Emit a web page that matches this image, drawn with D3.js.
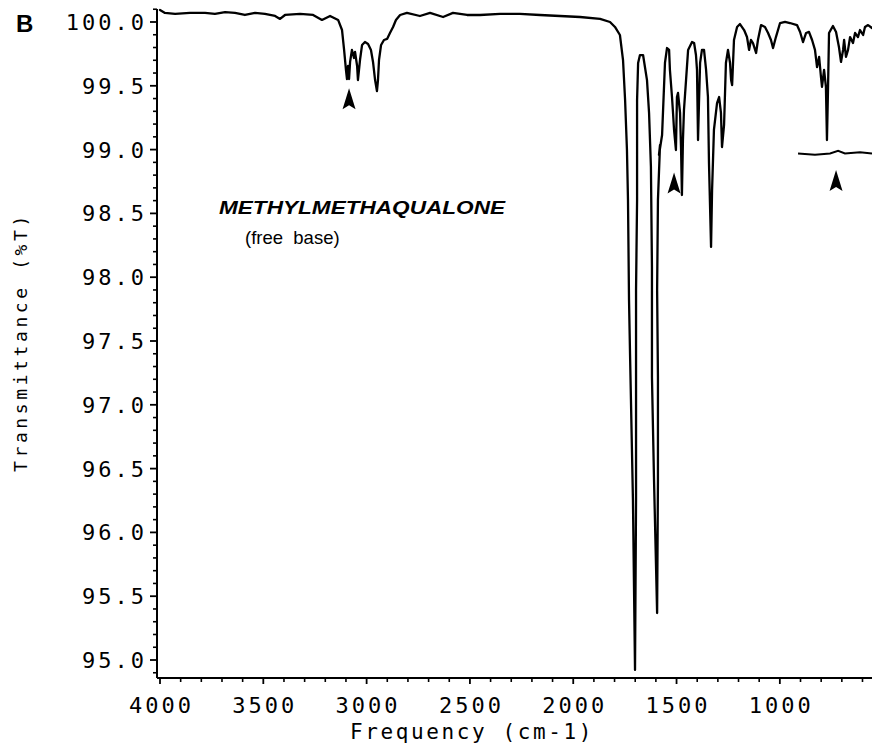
<!DOCTYPE html>
<html>
<head>
<meta charset="utf-8">
<script src="https://cdn.jsdelivr.net/npm/d3@7"></script>
<style>
  html, body { margin: 0; padding: 0; background: #fff; }
  svg { display: block; }
</style>
</head>
<body>
<svg id="chart" width="872" height="747"></svg>
<script>
// ---------------- data ----------------
const xTickValues = [4000, 3500, 3000, 2500, 2000, 1500, 1000];
const xTickLabels = ["4000", "3500", "3000", "2500", "2000", "1500", "1000"];
const yTickValues = [100.0, 99.5, 99.0, 98.5, 98.0, 97.5, 97.0, 96.5, 96.0, 95.5, 95.0];
const yTickLabels = ["100.0", "99.5", "99.0", "98.5", "98.0", "97.5", "97.0", "96.5", "96.0", "95.5", "95.0"];

// spectrum trace (cm-1, %T) in plotting order
const wavenumber = [
  4000, 3976, 3927, 3855, 3782, 3734, 3685, 3637, 3589, 3540, 3492, 3443, 3419, 3395, 3322, 3259,
  3216, 3177, 3138, 3119, 3109, 3100, 3095, 3090, 3085, 3080, 3071, 3061, 3056, 3046, 3042, 3032,
  3022, 3008, 2993, 2979, 2969, 2959, 2950, 2945, 2940, 2930, 2916, 2901, 2887, 2872, 2858, 2838,
  2805, 2742, 2693, 2630, 2582, 2514, 2451, 2354, 2258, 2161, 2064, 1967, 1870, 1822, 1798, 1774,
  1759, 1749, 1740, 1735, 1730, 1725, 1711, 1701, 1696, 1696, 1696, 1691, 1691, 1686, 1677, 1662,
  1643, 1633, 1624, 1619, 1619, 1609, 1594, 1590, 1590, 1594, 1590, 1580, 1585, 1570, 1556, 1546,
  1536, 1532, 1522, 1517, 1512, 1503, 1498, 1493, 1483, 1478, 1474, 1469, 1464, 1454, 1444, 1425,
  1415, 1406, 1401, 1396, 1391, 1386, 1377, 1367, 1357, 1348, 1343, 1333, 1328, 1319, 1304, 1294,
  1285, 1280, 1270, 1261, 1251, 1241, 1236, 1231, 1222, 1207, 1193, 1173, 1159, 1149, 1140, 1130,
  1115, 1106, 1091, 1072, 1057, 1043, 1033, 1019, 999, 975, 951, 917, 902, 888, 873, 859,
  844, 830, 820, 810, 801, 796, 786, 777, 772, 767, 762, 743, 728, 714, 704, 694,
  689, 680, 670, 660, 646, 636, 622, 612, 597, 588, 573, 554
];
const transmittance = [
  100.094, 100.071, 100.063, 100.071, 100.071, 100.063, 100.078, 100.071, 100.055, 100.071, 100.063, 100.047, 100.024, 100.055, 100.063, 100.055,
  100.016, 100.047, 100.016, 99.937, 99.781, 99.624, 99.553, 99.655, 99.553, 99.687, 99.781, 99.718, 99.765, 99.655, 99.545, 99.702,
  99.820, 99.843, 99.828, 99.781, 99.687, 99.545, 99.459, 99.545, 99.702, 99.820, 99.859, 99.867, 99.914, 99.961, 100.016, 100.055,
  100.071, 100.047, 100.071, 100.039, 100.071, 100.055, 100.055, 100.063, 100.063, 100.055, 100.047, 100.039, 100.024, 100.000, 99.961, 99.898,
  99.702, 99.389, 98.997, 98.605, 97.821, 97.390, 96.254, 94.922, 96.254, 97.390, 97.900, 98.605, 99.389, 99.679, 99.741, 99.741,
  99.545, 99.287, 98.864, 98.080, 97.218, 96.411, 95.368, 96.411, 97.218, 97.900, 98.605, 99.036, 98.958, 99.114, 99.679, 99.796,
  99.781, 99.624, 99.412, 99.287, 99.154, 98.997, 99.412, 99.444, 99.287, 98.997, 98.644, 99.075, 99.310, 99.545, 99.781, 99.843,
  99.835, 99.741, 99.624, 99.075, 99.389, 99.679, 99.781, 99.781, 99.624, 99.412, 98.895, 98.237, 98.683, 99.154, 99.365, 99.412,
  99.287, 99.020, 99.193, 99.679, 99.781, 99.679, 99.545, 99.506, 99.859, 99.961, 99.984, 99.937, 99.882, 99.781, 99.859, 99.835,
  99.757, 99.859, 99.976, 99.961, 99.914, 99.859, 99.796, 99.882, 99.992, 100.000, 99.992, 99.976, 99.922, 99.843, 99.914, 99.922,
  99.859, 99.781, 99.647, 99.726, 99.569, 99.491, 99.624, 99.491, 99.075, 99.467, 99.914, 99.969, 99.922, 99.804, 99.687, 99.781,
  99.859, 99.726, 99.781, 99.882, 99.835, 99.914, 99.882, 99.937, 99.898, 99.961, 99.976, 99.953
];

// marker arrows (tip position, cm-1 / %T)
const arrowWavenumber = [3085, 1512, 728];
const arrowTransmittance = [99.48, 98.82, 98.84];

// offset reference line near the 728 band
const refLineWavenumber = [912, 830, 757, 718, 685, 612, 554];
const refLineTransmittance = [98.97, 98.96, 98.97, 98.99, 98.97, 98.98, 98.97];

// ---------------- drawing ----------------
const svg = d3.select("#chart");
const xMin = 554, xMax = 4000;
const x = d3.scaleLinear().domain([xMax, xMin]).range([160, 872]);
const y = d3.scaleLinear().domain([94.859, 100.094]).range([678, 10]);

const axisX = 157;      // y-axis line position
const axisY = 678;      // x-axis line position
const monoFont = "'DejaVu Sans Mono', 'Liberation Mono', monospace";

// y axis
const yAxis = svg.append("g").attr("transform", `translate(${axisX},0)`);
yAxis.append("line").attr("x1", 0).attr("x2", 0).attr("y1", 9).attr("y2", axisY)
  .attr("stroke", "#000").attr("stroke-width", 2);
const yMinor = d3.range(949, 1002, 1).map(v => v / 10).filter(v => !yTickValues.some(t => Math.abs(t - v) < 1e-6));
yAxis.selectAll(".ymin").data(yMinor).enter().append("line")
  .attr("x1", -4).attr("x2", 0).attr("y1", d => y(d)).attr("y2", d => y(d))
  .attr("stroke", "#000").attr("stroke-width", 1.6);
yAxis.selectAll(".ymaj").data(yTickValues).enter().append("line")
  .attr("x1", -7).attr("x2", 0).attr("y1", d => y(d)).attr("y2", d => y(d))
  .attr("stroke", "#000").attr("stroke-width", 1.8);
yAxis.selectAll(".ylab").data(yTickValues).enter().append("text")
  .attr("x", -10).attr("y", d => y(d) + 8)
  .attr("text-anchor", "end")
  .attr("font-family", monoFont).attr("font-size", 22).attr("letter-spacing", 3)
  .attr("fill", "#000")
  .text((d, i) => yTickLabels[i]);

// x axis
const xAxis = svg.append("g").attr("transform", `translate(0,${axisY})`);
xAxis.append("line").attr("x1", axisX).attr("x2", 872).attr("y1", 0).attr("y2", 0)
  .attr("stroke", "#000").attr("stroke-width", 2);
const xMinor = d3.range(600, 4001, 100).filter(v => !xTickValues.includes(v));
xAxis.selectAll(".xmin").data(xMinor).enter().append("line")
  .attr("x1", d => x(d)).attr("x2", d => x(d)).attr("y1", 0).attr("y2", 4)
  .attr("stroke", "#000").attr("stroke-width", 1.6);
xAxis.selectAll(".xmaj").data(xTickValues).enter().append("line")
  .attr("x1", d => x(d)).attr("x2", d => x(d)).attr("y1", 0).attr("y2", 6)
  .attr("stroke", "#000").attr("stroke-width", 1.8);
xAxis.selectAll(".xlab").data(xTickValues).enter().append("text")
  .attr("x", d => x(d) + 1.5).attr("y", 35)
  .attr("text-anchor", "middle")
  .attr("font-family", monoFont).attr("font-size", 22).attr("letter-spacing", 3)
  .attr("fill", "#000")
  .text((d, i) => xTickLabels[i]);

// axis titles
svg.append("text")
  .attr("x", 472).attr("y", 739)
  .attr("text-anchor", "middle")
  .attr("font-family", monoFont).attr("font-size", 21).attr("letter-spacing", 2.6)
  .attr("fill", "#000")
  .text("Frequency (cm-1)");
svg.append("text")
  .attr("transform", "translate(27,342) rotate(-90)")
  .attr("text-anchor", "middle")
  .attr("font-family", monoFont).attr("font-size", 18).attr("letter-spacing", 3.6)
  .attr("fill", "#000")
  .text("Transmittance (%T)");

// spectrum
const pts = wavenumber.map((w, i) => [w, transmittance[i]]);
const line = d3.line().x(d => x(d[0])).y(d => y(d[1]));
svg.append("path").datum(pts)
  .attr("d", line)
  .attr("fill", "none").attr("stroke", "#000").attr("stroke-width", 2.3)
  .attr("stroke-linejoin", "round").attr("stroke-linecap", "round");

// reference line
const refPts = refLineWavenumber.map((w, i) => [w, refLineTransmittance[i]]);
svg.append("path").datum(refPts)
  .attr("d", line)
  .attr("fill", "none").attr("stroke", "#000").attr("stroke-width", 2);

// arrows
arrowWavenumber.forEach((w, i) => {
  const tx = x(w), ty = y(arrowTransmittance[i]);
  svg.append("path")
    .attr("d", `M${tx},${ty} L${tx + 6.5},${ty + 21} L${tx},${ty + 17} L${tx - 6.5},${ty + 21} Z`)
    .attr("fill", "#000");
});

// annotation text
svg.append("text").attr("x", 16).attr("y", 32)
  .attr("font-family", "'Liberation Sans', Arial, sans-serif").attr("font-weight", "bold")
  .attr("font-size", 24).attr("fill", "#000").text("B");
svg.append("text").attr("x", 219).attr("y", 214)
  .attr("font-family", "'Liberation Sans', Arial, sans-serif").attr("font-weight", "bold")
  .attr("font-style", "italic").attr("font-size", 19)
  .attr("textLength", 286).attr("lengthAdjust", "spacingAndGlyphs")
  .attr("fill", "#000").text("METHYLMETHAQUALONE");
svg.append("text").attr("x", 245).attr("y", 244)
  .attr("font-family", "'Liberation Sans', Arial, sans-serif")
  .attr("font-size", 18.5).attr("fill", "#000")
  .style("white-space", "pre")
  .text("(free  base)");
</script>
</body>
</html>
